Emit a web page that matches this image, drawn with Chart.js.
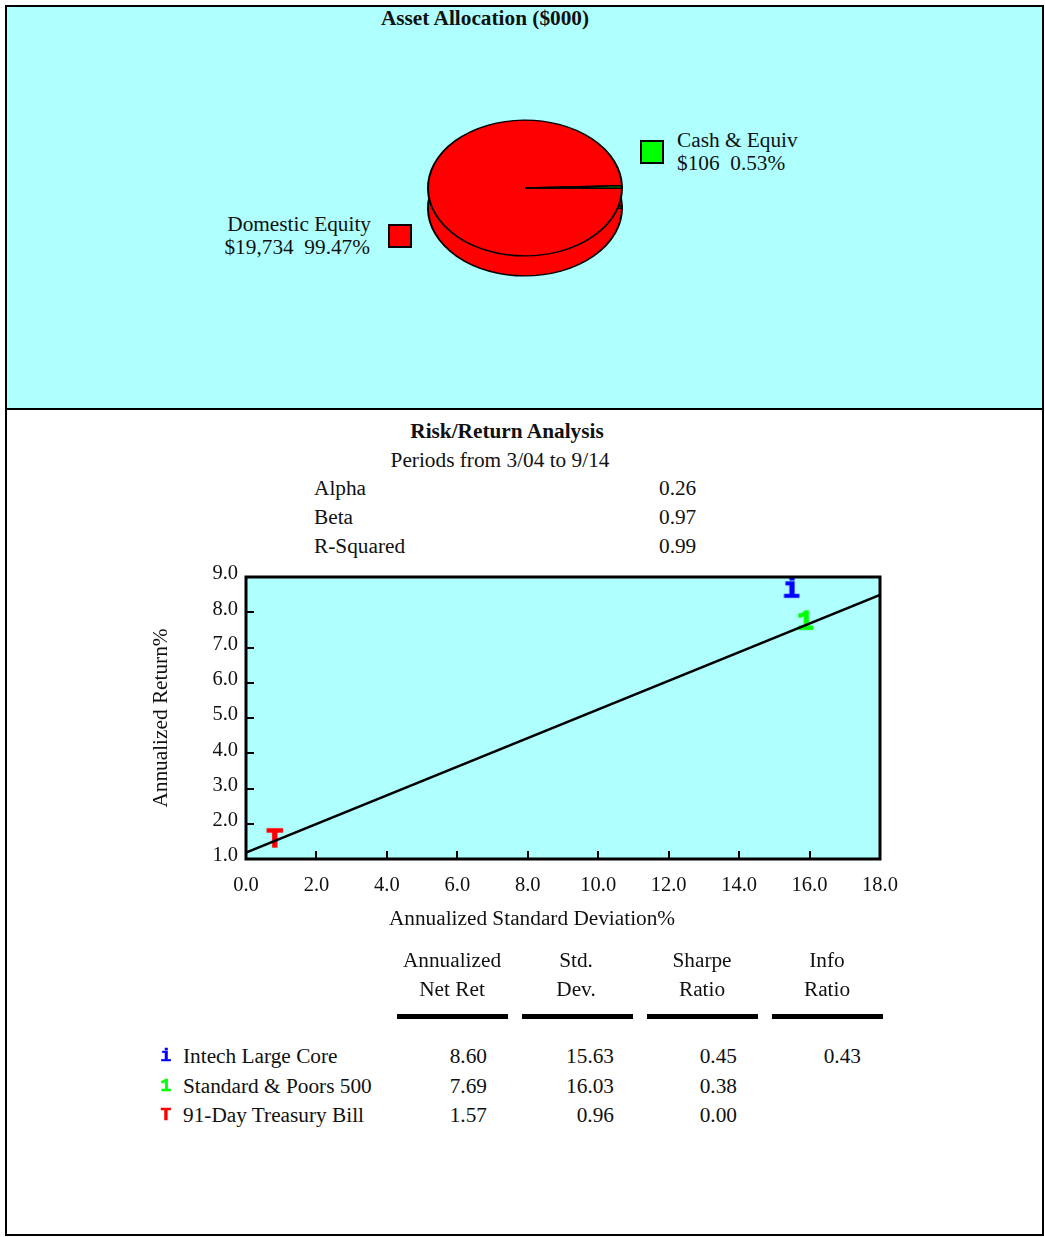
<!DOCTYPE html>
<html>
<head>
<meta charset="utf-8">
<script src="https://cdn.jsdelivr.net/npm/chart.js@4/dist/chart.umd.min.js"></script>
<style>
  html, body { margin: 0; padding: 0; background: #fff; overflow: hidden; }
  body { width: 1045px; height: 1237px; position: relative; font-family: "Liberation Serif", "Times New Roman", serif; color: #111; }
  .frame { position: absolute; left: 5px; top: 5px; width: 1035px; height: 1227px; border: 2px solid #000; }
  .top { position: absolute; left: 7px; top: 7px; width: 1035px; height: 401px; background: #B0FFFF; border-bottom: 2px solid #000; }
  .t { position: absolute; white-space: pre; font-size: 21.3px; line-height: 21px; }
  .sym { font-family: "Liberation Mono", "Courier New", monospace; font-weight: bold; font-size: 18px; -webkit-text-stroke: 0.6px currentColor; }
  .box { position: absolute; width: 20px; height: 20px; border: 2px solid #000; }
  .bar { position: absolute; height: 5px; background: #000; }
  canvas { position: absolute; }
</style>
</head>
<body>
<div class="top"></div>
<div class="frame"></div>
<canvas id="pie" width="220" height="220" style="left:415px; top:78px;"></canvas>
<canvas id="rr" width="780" height="380" style="left:140px; top:560px;"></canvas>
<div id="texts"></div>
<script>
// asset allocation ($000)
const pieLabels = ["Domestic Equity", "Cash & Equiv"];
const pieValues = [19734, 106];
const pieColors = ["#FF0000", "#00FF00"];

// risk / return
const statLabels = ["Alpha", "Beta", "R-Squared"];
const statValues = ["0.26", "0.97", "0.99"];

const names = ["Intech Large Core", "Standard & Poors 500", "91-Day Treasury Bill"];
const symbols = ["i", "1", "T"];
const symColors = ["#0000FF", "#00FF00", "#FF0000"];
const netRet = [8.60, 7.69, 1.57];
const stdDev = [15.63, 16.03, 0.96];
const sharpe = [0.45, 0.38, 0.00];
const infoRatio = [0.43, null, null];

// market line
const lineX = [0, 18];
const lineY = [1.18, 8.49];

const xTicks = [0, 2, 4, 6, 8, 10, 12, 14, 16, 18];
const yTicks = [1, 2, 3, 4, 5, 6, 7, 8, 9];

const headers = [["Annualized", "Net Ret"], ["Std.", "Dev."], ["Sharpe", "Ratio"], ["Info", "Ratio"]];

const serif = "'Liberation Serif', 'Times New Roman', serif";
const holder = document.getElementById("texts");

function txt(s, x, y, align, extra) {
  const d = document.createElement("div");
  d.className = "t";
  d.textContent = s;
  let tx = "0";
  if (align === "center") tx = "-50%";
  if (align === "right") tx = "-100%";
  d.style.left = x + "px";
  d.style.top = y + "px";
  d.style.transform = "translate(" + tx + ", -50%)";
  if (extra) Object.assign(d.style, extra);
  holder.appendChild(d);
  return d;
}

function box(x, y, color) {
  const d = document.createElement("div");
  d.className = "box";
  d.style.left = x + "px";
  d.style.top = y + "px";
  d.style.background = color;
  holder.appendChild(d);
}

// top panel texts
const total = pieValues.reduce((a, b) => a + b, 0);
const money = v => "$" + v.toLocaleString("en-US");
const pct = v => (v / total * 100).toFixed(2) + "%";

txt("Asset Allocation ($000)", 485, 18, "center", { fontWeight: "bold" });
txt(pieLabels[0], 371, 224, "right");
txt(money(pieValues[0]) + "  " + pct(pieValues[0]), 370, 247, "right");
box(388, 224, pieColors[0]);
txt(pieLabels[1], 677, 140, "left");
txt(money(pieValues[1]) + "  " + pct(pieValues[1]), 677, 163, "left");
box(640, 140, pieColors[1]);

// bottom panel texts
txt("Risk/Return Analysis", 507, 431, "center", { fontWeight: "bold" });
txt("Periods from 3/04 to 9/14", 500, 460, "center");
statLabels.forEach((l, i) => {
  txt(l, 314, 488 + i * 29, "left");
  txt(statValues[i], 659, 488 + i * 29, "left");
});
txt("Annualized Return%", 160, 718, "center", { transform: "translate(-50%, -50%) rotate(-90deg)" });
txt("Annualized Standard Deviation%", 532, 918, "center");

const colCenters = [452, 576, 702, 827];
const colRights = [487, 614, 737, 861];
headers.forEach((h, i) => {
  txt(h[0], colCenters[i], 960, "center");
  txt(h[1], colCenters[i], 989, "center");
  const b = document.createElement("div");
  b.className = "bar";
  b.style.left = (397 + i * 125) + "px";
  b.style.top = "1014px";
  b.style.width = "111px";
  holder.appendChild(b);
});

names.forEach((n, i) => {
  const y = 1056 + i * 29.5;
  const s = txt(symbols[i], 166, y, "center", { color: symColors[i] });
  s.classList.add("sym");
  txt(n, 183, y, "left");
  const cols = [netRet[i], stdDev[i], sharpe[i], infoRatio[i]];
  cols.forEach((v, j) => {
    if (v === null) return;
    txt(v.toFixed(2), colRights[j], y, "right");
  });
});

// pie with a bit of depth: squash vertically and draw the arcs once more underneath
const pie3d = {
  id: "pie3d",
  beforeDatasetsDraw(chart, args, opts) {
    const ctx = chart.ctx;
    const arcs = chart.getDatasetMeta(0).data;
    const cx = arcs[0].x, cy = arcs[0].y;
    ctx.save();
    ctx.translate(cx, cy);
    ctx.scale(1, opts.squash);
    ctx.translate(-cx, -cy);
    ctx.save();
    ctx.translate(0, opts.depth / opts.squash);
    arcs.forEach(a => a.draw(ctx));
    ctx.restore();
  },
  afterDatasetsDraw(chart) {
    chart.ctx.restore();
  }
};

new Chart(document.getElementById("pie"), {
  type: "pie",
  data: {
    labels: pieLabels,
    datasets: [{
      data: pieValues,
      backgroundColor: pieColors,
      borderColor: "#000",
      borderWidth: 2
    }]
  },
  options: {
    responsive: false,
    animation: false,
    rotation: 90,
    layout: { padding: 12 },
    events: [],
    plugins: {
      legend: { display: false },
      tooltip: { enabled: false },
      pie3d: { squash: 0.7, depth: 20 }
    }
  },
  plugins: [pie3d]
});

// scatter with market line
function glyph(ch, color) {
  const c = document.createElement("canvas");
  c.width = 40; c.height = 40;
  const g = c.getContext("2d");
  g.font = "bold 28px 'Liberation Mono', 'Courier New', monospace";
  g.fillStyle = color;
  g.strokeStyle = color;
  g.lineWidth = 1.4;
  g.textAlign = "center";
  g.textBaseline = "middle";
  g.fillText(ch, 15, ch === "T" ? 21 : 19);
  g.strokeText(ch, 15, ch === "T" ? 21 : 19);
  return c;
}

const plotFrame = {
  id: "plotFrame",
  beforeDraw(chart) {
    const { ctx, chartArea: a } = chart;
    ctx.save();
    ctx.fillStyle = "#B0FFFF";
    ctx.fillRect(a.left, a.top, a.width, a.height);
    ctx.restore();
  },
  afterDatasetsDraw(chart) {
    const { ctx, chartArea: a } = chart;
    ctx.save();
    ctx.strokeStyle = "#000";
    ctx.lineWidth = 3;
    ctx.strokeRect(a.left, a.top, a.width, a.height);
    ctx.restore();
  }
};

const pointSets = names.map((n, i) => ({
  label: n,
  data: [{ x: stdDev[i], y: netRet[i] }],
  pointStyle: glyph(symbols[i], symColors[i]),
  pointRadius: 3,
  showLine: false,
  clip: false
}));

new Chart(document.getElementById("rr"), {
  type: "scatter",
  data: {
    datasets: [{
      label: "Market Line",
      data: lineX.map((x, i) => ({ x: x, y: lineY[i] })),
      showLine: true,
      borderColor: "#000",
      borderWidth: 2.5,
      pointRadius: 0
    }].concat(pointSets)
  },
  options: {
    responsive: false,
    animation: false,
    events: [],
    layout: { padding: { left: 0, top: 17, right: 40, bottom: 0 } },
    plugins: { legend: { display: false }, tooltip: { enabled: false } },
    scales: {
      x: {
        type: "linear",
        min: 0, max: 18,
        afterBuildTicks: s => { s.ticks = xTicks.map(v => ({ value: v })); },
        afterFit: s => { s.height = 81; s.paddingLeft = 0; s.paddingRight = 0; },
        border: { display: false },
        grid: { drawOnChartArea: false, drawTicks: true, tickLength: -8, color: "#000", lineWidth: 2 },
        ticks: {
          color: "#111",
          padding: 22,
          maxRotation: 0,
          font: { family: serif, size: 20.5 },
          callback: v => v.toFixed(1)
        }
      },
      y: {
        type: "linear",
        min: 1, max: 9,
        afterBuildTicks: s => { s.ticks = yTicks.map(v => ({ value: v })); },
        afterFit: s => { s.width = 106; s.paddingTop = 0; s.paddingBottom = 0; },
        border: { display: false },
        grid: { drawOnChartArea: false, drawTicks: true, tickLength: -8, color: "#000", lineWidth: 2 },
        ticks: {
          color: "#111",
          padding: 16,
          labelOffset: -3,
          font: { family: serif, size: 20.5 },
          callback: v => v.toFixed(1)
        }
      }
    }
  },
  plugins: [plotFrame]
});
</script>
</body>
</html>
